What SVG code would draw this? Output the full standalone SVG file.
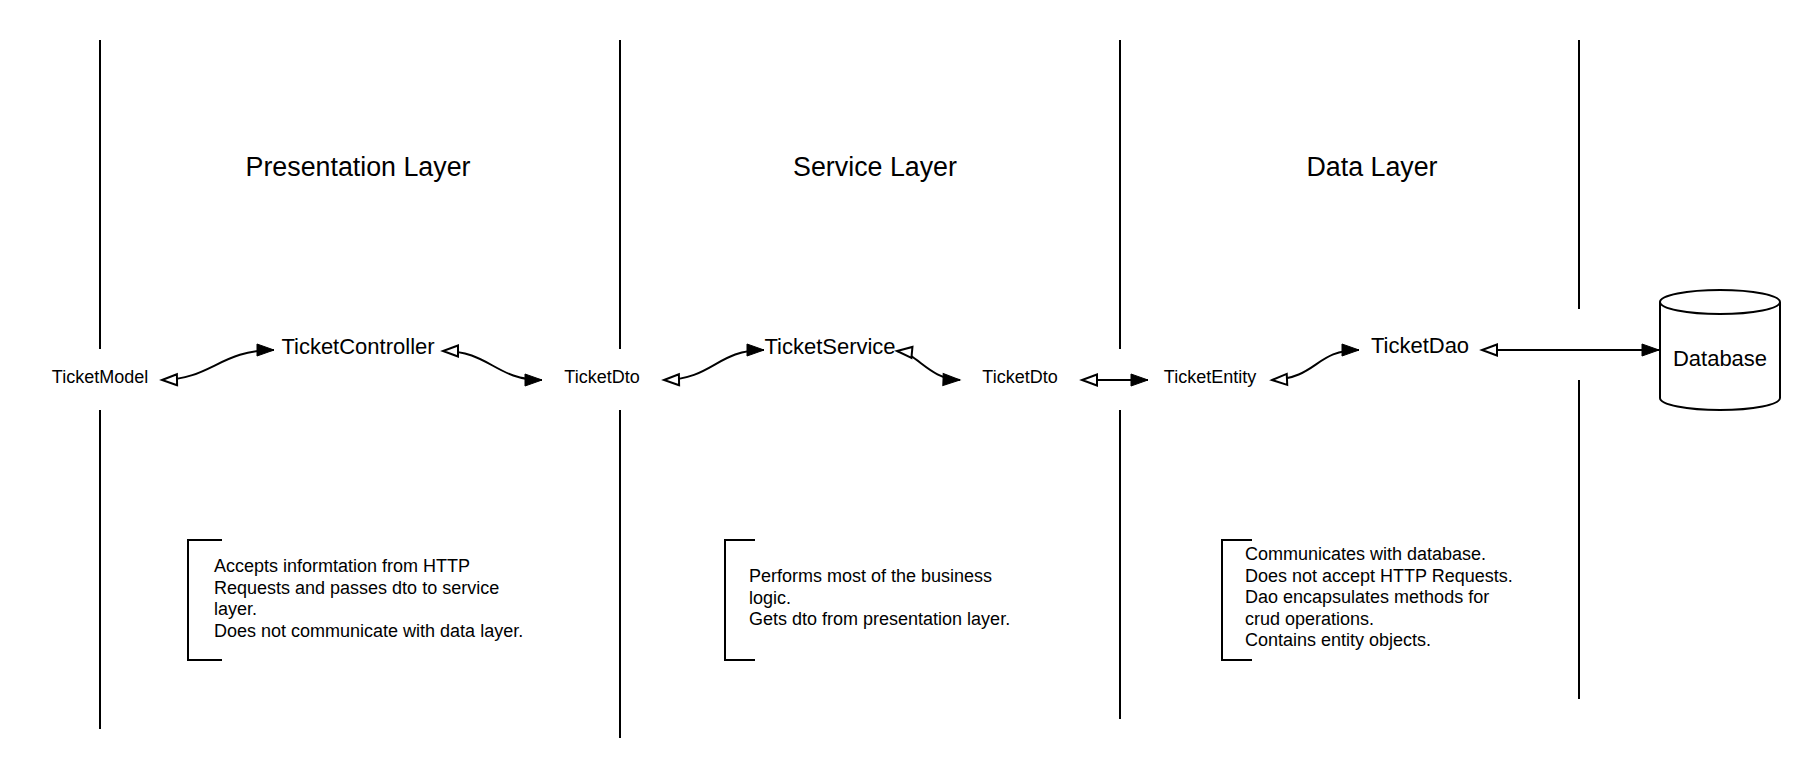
<svg xmlns="http://www.w3.org/2000/svg" width="1809" height="780" viewBox="0 0 1809 780">
  <style>
    text { font-family: "Liberation Sans", Arial, sans-serif; fill: #000; }
    .title { font-size: 26.8px; text-anchor: middle; }
    .lbl { font-size: 18px; text-anchor: middle; }
    .big { font-size: 22px; text-anchor: middle; }
    .note { font-size: 18px; }
    .lane { stroke: #000; stroke-width: 2; fill: none; }
    .bracket { stroke: #000; stroke-width: 2; fill: none; }
    .conn { stroke: #000; stroke-width: 2; fill: none; marker-start: url(#open); marker-end: url(#filled); }
  </style>
  <defs>
    <marker id="filled" markerUnits="userSpaceOnUse" markerWidth="20" markerHeight="14" refX="17" refY="6" orient="auto-start-reverse" viewBox="0 0 20 14" overflow="visible">
      <path d="M0,0 L17,6 L0,12 z" fill="#000" stroke="#000" stroke-width="1"/>
    </marker>
    <marker id="open" markerUnits="userSpaceOnUse" markerWidth="20" markerHeight="14" refX="15" refY="5.5" orient="auto-start-reverse" viewBox="0 0 20 14" overflow="visible">
      <path d="M0,0 L15,5.5 L0,11 z" fill="#fff" stroke="#000" stroke-width="2" stroke-linejoin="miter"/>
    </marker>
  </defs>
  <rect width="1809" height="780" fill="#fff"/>

  <g id="lanes">
    <line class="lane" x1="100" y1="40" x2="100" y2="349"/>
    <line class="lane" x1="100" y1="410" x2="100" y2="729"/>
    <line class="lane" x1="620" y1="40" x2="620" y2="349"/>
    <line class="lane" x1="620" y1="410" x2="620" y2="738"/>
    <line class="lane" x1="1120" y1="40" x2="1120" y2="349"/>
    <line class="lane" x1="1120" y1="410" x2="1120" y2="719"/>
    <line class="lane" x1="1579" y1="40" x2="1579" y2="309"/>
    <line class="lane" x1="1579" y1="380" x2="1579" y2="699"/>
  </g>

  <g id="titles">
    <text class="title" x="358" y="176">Presentation Layer</text>
    <text class="title" x="875" y="176">Service Layer</text>
    <text class="title" x="1372" y="176">Data Layer</text>
  </g>

  <g id="connectors">
    <path class="conn" d="M162,380 C212,379 220,350 274,350"/>
    <path class="conn" d="M443,351 C490,351 495,380 542,380"/>
    <path class="conn" d="M664,380 C714,379 716,350 764,350"/>
    <path class="conn" d="M897,351 C918,353 928,379 960,380"/>
    <path class="conn" d="M1082,380 L1148,380"/>
    <path class="conn" d="M1272,380 C1318,378 1315,350 1359,350"/>
    <path class="conn" d="M1482,350 L1659,350"/>
  </g>

  <g id="TicketModel"><text class="lbl" x="100" y="383">TicketModel</text></g>
  <g id="TicketController"><text class="big" x="358" y="354">TicketController</text></g>
  <g id="TicketDto1"><text class="lbl" x="602" y="383">TicketDto</text></g>
  <g id="TicketService"><text class="big" x="830" y="354">TicketService</text></g>
  <g id="TicketDto2"><text class="lbl" x="1020" y="383">TicketDto</text></g>
  <g id="TicketEntity"><text class="lbl" x="1210" y="383">TicketEntity</text></g>
  <g id="TicketDao"><text class="big" x="1420" y="353">TicketDao</text></g>
  <g id="Database">
    <path d="M1660,302 A60,12 0 0,1 1780,302 V398 A60,12 0 0,1 1660,398 Z" fill="#fff" stroke="#000" stroke-width="2"/>
    <path d="M1660,302 A60,12 0 0,0 1780,302" fill="none" stroke="#000" stroke-width="2"/>
    <text class="big" x="1720" y="366">Database</text>
  </g>

  <g id="note-presentation">
    <path class="bracket" d="M222,540 H188 V660 H222"/>
    <text class="note" x="214" y="572">Accepts informtation from HTTP</text>
    <text class="note" x="214" y="593.5">Requests and passes dto to service</text>
    <text class="note" x="214" y="615">layer.</text>
    <text class="note" x="214" y="636.5">Does not communicate with data layer.</text>
  </g>
  <g id="note-service">
    <path class="bracket" d="M755,540 H725 V660 H755"/>
    <text class="note" x="749" y="582">Performs most of the business</text>
    <text class="note" x="749" y="603.5">logic.</text>
    <text class="note" x="749" y="625">Gets dto from presentation layer.</text>
  </g>
  <g id="note-data">
    <path class="bracket" d="M1252,540 H1222 V660 H1252"/>
    <text class="note" x="1245" y="560">Communicates with database.</text>
    <text class="note" x="1245" y="581.5">Does not accept HTTP Requests.</text>
    <text class="note" x="1245" y="603">Dao encapsulates methods for</text>
    <text class="note" x="1245" y="624.5">crud operations.</text>
    <text class="note" x="1245" y="646">Contains entity objects.</text>
  </g>
</svg>
